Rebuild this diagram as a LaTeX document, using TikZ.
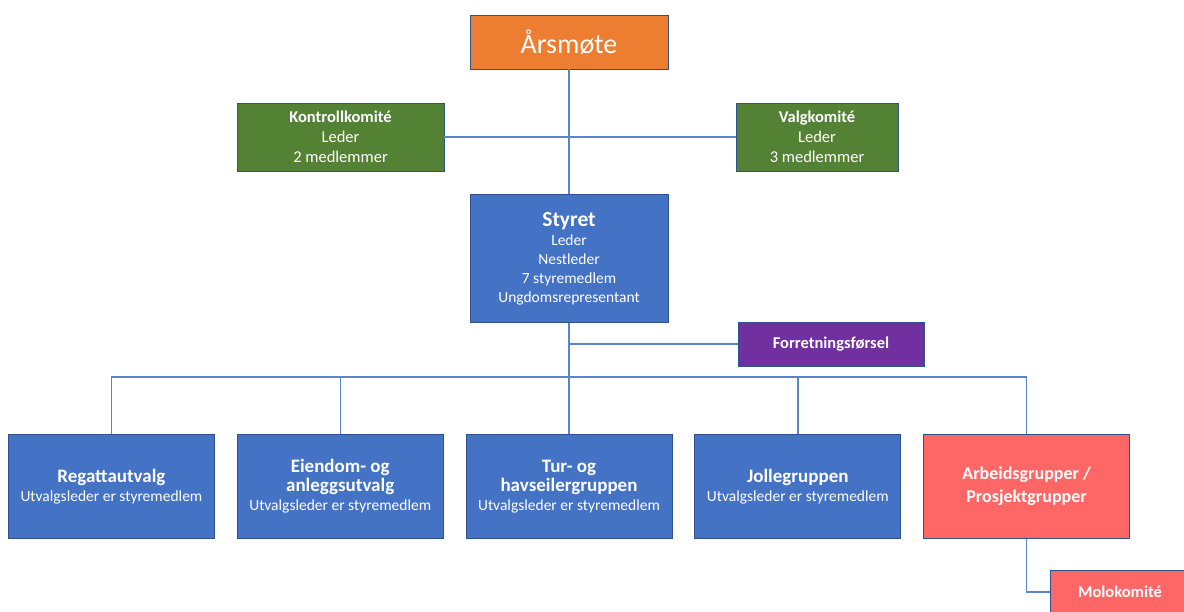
\documentclass[tikz,border=0pt]{standalone}
\usepackage{fontspec}
\setmainfont{Carlito}
\usetikzlibrary{positioning}
\definecolor{boxblue}{HTML}{4472C4}
\definecolor{edgeblue}{HTML}{2F528F}
\definecolor{lineblue}{HTML}{5B84CF}
\definecolor{boxorange}{HTML}{ED7D31}
\definecolor{boxgreen}{HTML}{548235}
\definecolor{boxpurple}{HTML}{7030A0}
\definecolor{boxred}{HTML}{FF6666}
\newcommand\unittitle[1]{{\fontsize{19}{23}\selectfont\bfseries #1}}

\begin{document}
\begin{tikzpicture}[x=1pt,y=-1pt,% styles for all boxes, override case-by-case
		every node/.style={
			align=center,		% so that "\\" breaks the line
			text=white,
			inner sep=2pt
		},
		box/.style={rectangle,draw=edgeblue,line width=0.8pt},
		unit/.style={box,fill=boxblue,minimum width=206pt,minimum height=104pt,
			font=\fontsize{15.5}{19}\selectfont},
		link/.style={draw=lineblue,line width=1.4pt}
	]
	\useasboundingbox (0,0) rectangle (1184,612);
	\clip (0,0) rectangle (1184,612);
	\node[box,fill=boxorange,minimum width=198pt,minimum height=54pt,font=\fontsize{28}{32}\selectfont](R1) at (569,42){Årsmøte};
	\node[box,fill=boxgreen,minimum width=207pt,minimum height=68pt,font=\fontsize{16.5}{20}\selectfont](R2) at (340.5,137){\textbf{Kontrollkomité}\\Leder\\2 medlemmer};
	\node[box,fill=boxgreen,minimum width=162pt,minimum height=68pt,font=\fontsize{16.5}{20}\selectfont](R3) at (817,137){\textbf{Valgkomité}\\Leder\\3 medlemmer};
	\node[box,fill=boxblue,minimum width=198pt,minimum height=128pt,font=\fontsize{15.5}{19}\selectfont](R4)[below=125pt of R1]{{\fontsize{21.5}{24}\selectfont\bfseries Styret}\\Leder\\Nestleder\\7 styremedlem\\Ungdomsrepresentant};
	\node[box,fill=boxpurple,minimum width=186pt,minimum height=44pt,font=\fontsize{16.5}{18}\selectfont\bfseries](R5) at (831,344){Forretningsførsel};
	\node[unit](R8)[below=111pt of R4]{\unittitle{Tur- og}\\\unittitle{havseilergruppen}\\Utvalgsleder er styremedlem};
	\node[unit](R7)[left=22pt of R8]{\unittitle{Eiendom- og}\\\unittitle{anleggsutvalg}\\Utvalgsleder er styremedlem};
	\node[unit](R6)[left=22pt of R7]{\unittitle{Regattautvalg}\\Utvalgsleder er styremedlem};
	\node[unit](R9)[right=22pt of R8]{\unittitle{Jollegruppen}\\Utvalgsleder er styremedlem};
	\node[unit,fill=boxred,font=\fontsize{18}{23}\selectfont\bfseries](R10)[right=22pt of R9]{Arbeidsgrupper /\\Prosjektgrupper};
	\node[box,fill=boxred,minimum width=140pt,minimum height=44pt,font=\fontsize{16.5}{18}\selectfont\bfseries](R11) at (1120,592){Molokomité};
	\coordinate (bus) at (569,377);
	\path[link]
		(R1) -- (R4)
		(R2) -- (R3)
		(R4.south) |- (R5.west)
		(R4.south) -- (R8.north)
		(R6.north) |- (bus) -| (R10.north)
		(R7.north) -- (R7.north |- bus)
		(R9.north) -- (R9.north |- bus)
		(R10.south) |- (R11.west)
		;
\end{tikzpicture}
\end{document}
